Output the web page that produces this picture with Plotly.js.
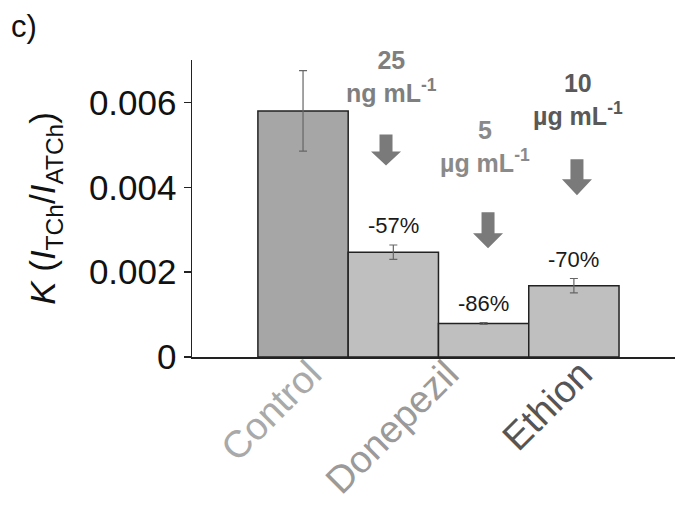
<!DOCTYPE html>
<html>
<head>
<meta charset="utf-8">
<script src="https://cdn.plot.ly/plotly-3.0.1.min.js"></script>
<style>html,body{margin:0;padding:0;background:#fff;}#chart{width:675px;height:505px;}</style>
</head>
<body>
<div id="chart"></div>
<script>
// ---- data ----
var barPos = [0, 1, 2, 3];
var kValues = [0.0058, 0.00247, 0.00079, 0.00168];
var kErrors = [0.00095, 0.00017, 0.00002, 0.00017];
var barColors = ['#a6a6a6', '#bfbfbf', '#bfbfbf', '#bfbfbf'];
var pctLabels = ['', '-57%', '-86%', '-70%'];
var categories = ['Control', 'Donepezil', 'Ethion'];
var categoryColors = ['#a9a9a9', '#9a9a9a', '#555555'];
var yTickVals = [0, 0.002, 0.004, 0.006];
var yTickText = ['0', '0.002', '0.004', '0.006'];
var doseNumbers = ['25', '5', '10'];
var doseUnits = ['ng mL<sup>-1</sup>', '\u00b5g mL<sup>-1</sup>', '\u00b5g mL<sup>-1</sup>'];
var doseColors = ['#7f7f7f', '#8a8a8a', '#595959'];

// ---- layout helpers ----
var FONT = 'Liberation Sans, Arial, Helvetica, sans-serif';
var categoryTickPos = [0.08, 1.6, 3.08];
var doseTextPos = [[0.975, 0.00662], [2.02, 0.00497], [3.05, 0.00608]];
var arrowAnchors = [[0.919, 0.005247, 31, 14], [2.049, 0.003412, 36, 15], [3.034, 0.004659, 36, 16]];

var trace = {
  type: 'bar',
  x: barPos,
  y: kValues,
  width: 1,
  marker: {color: barColors, line: {color: '#222', width: 1.5}},
  error_y: {type: 'data', array: kErrors, visible: true, color: '#666', thickness: 1.2, width: 4},
  hoverinfo: 'none'
};

var annotations = [];
for (var i = 0; i < barPos.length; i++) {
  if (!pctLabels[i]) continue;
  annotations.push({
    x: barPos[i], y: kValues[i] + kErrors[i], xref: 'x', yref: 'y',
    text: pctLabels[i], showarrow: false, yanchor: 'bottom', yshift: 5,
    font: {family: FONT, size: 22, color: '#1a1a1a'}
  });
}
for (var j = 0; j < doseNumbers.length; j++) {
  annotations.push({
    x: doseTextPos[j][0], y: doseTextPos[j][1], xref: 'x', yref: 'y',
    text: '<b>' + doseNumbers[j] + '</b><br><b>' + doseUnits[j] + '</b>',
    showarrow: false, xanchor: 'center', yanchor: 'middle',
    font: {family: FONT, size: 25, color: doseColors[j]}
  });
}
annotations.push({
  x: -0.378, y: 1.18, xref: 'paper', yref: 'paper', text: 'c)', showarrow: false,
  xanchor: 'left', yanchor: 'top', font: {family: FONT, size: 31, color: '#111'}
});

var shapes = arrowAnchors.map(function (a) {
  var w = 6.5, H = 15, L = a[2], h = a[3], s = L - h;
  return {
    type: 'path', xref: 'x', yref: 'y', xsizemode: 'pixel', ysizemode: 'pixel',
    xanchor: a[0], yanchor: a[1],
    path: 'M' + (-w) + ',0 L' + w + ',0 L' + w + ',' + (-s) + ' L' + H + ',' + (-s) +
          ' L0,' + (-L) + ' L' + (-H) + ',' + (-s) + ' L' + (-w) + ',' + (-s) + ' Z',
    fillcolor: '#7a7a7a', line: {width: 0}
  };
});

var ticktext = categories.map(function (c, k) {
  return '<span style="color:' + categoryColors[k] + '">' + c + '</span>';
});

var layout = {
  width: 675, height: 505,
  margin: {l: 192, r: 0, t: 60, b: 148},
  paper_bgcolor: '#fff', plot_bgcolor: '#fff',
  showlegend: false,
  bargap: 0,
  font: {family: FONT, color: '#111'},
  xaxis: {
    range: [-1.23, 4.12], showline: true, linecolor: '#222', linewidth: 1.5,
    showgrid: false, zeroline: false, ticks: '', ticklabelstandoff: -22,
    tickmode: 'array', tickvals: categoryTickPos, ticktext: ticktext,
    tickangle: -45, tickfont: {family: FONT, size: 38, color: '#999'}
  },
  yaxis: {
    range: [0, 0.007], showline: true, linecolor: '#222', linewidth: 1.5,
    showgrid: false, zeroline: false, ticks: 'outside', ticklen: 7, tickwidth: 1.5, tickcolor: '#222',
    tickmode: 'array', tickvals: yTickVals, ticktext: yTickText,
    tickfont: {family: FONT, size: 35, color: '#111'},
    title: {text: '<i>K</i> (<i>I</i><sub>TCh</sub>/<i>I</i><sub>ATCh</sub>)', font: {family: FONT, size: 35, color: '#111'}, standoff: 22}
  },
  annotations: annotations,
  shapes: shapes
};

Plotly.newPlot('chart', [trace], layout, {displayModeBar: false, staticPlot: true});
</script>
</body>
</html>
